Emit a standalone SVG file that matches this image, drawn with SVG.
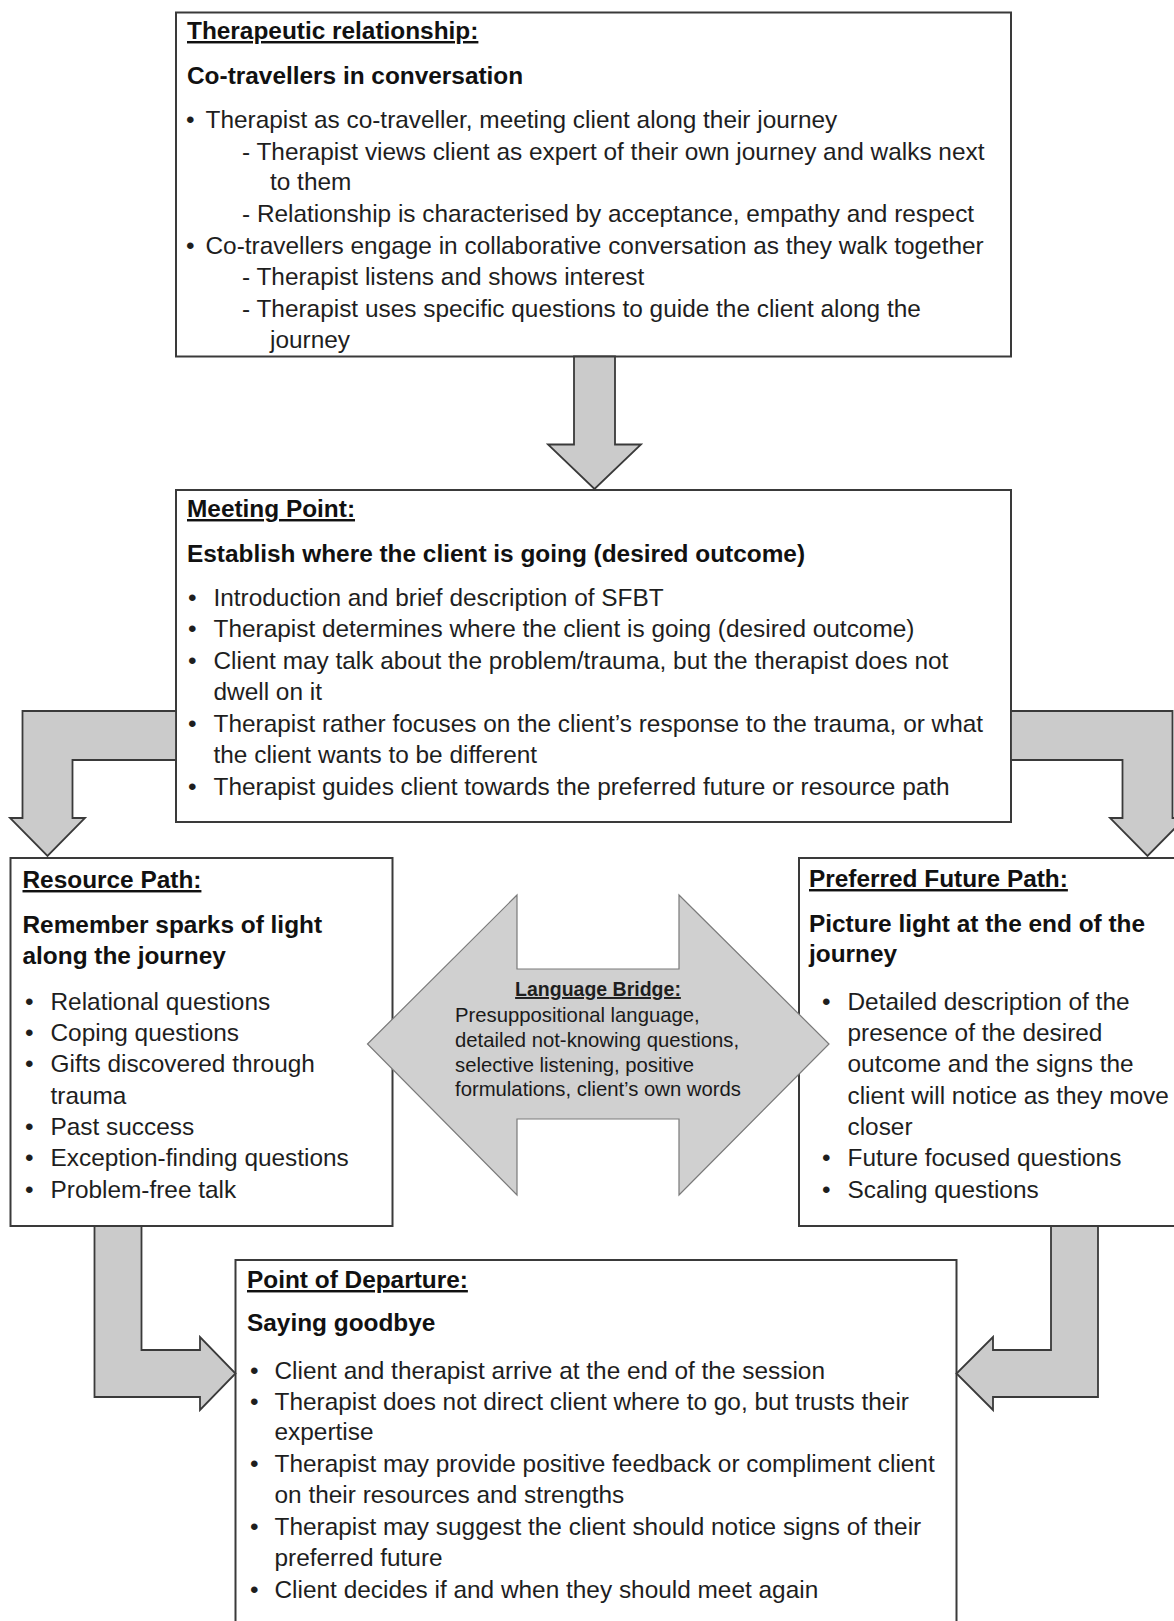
<svg xmlns="http://www.w3.org/2000/svg" width="1174" height="1621" viewBox="0 0 1174 1621">
<style>
.box{fill:#fff;stroke:#3a3a3a;stroke-width:2}
.arr{fill:#cbcbcb;stroke:#3a3a3a;stroke-width:1.8;stroke-linejoin:miter}
.bridge{fill:#d0d0d0;stroke:#7a7a7a;stroke-width:1.2}
text{font-family:"Liberation Sans",Arial,sans-serif;fill:#1e1e1e;font-size:24.4px}
.h{font-weight:bold;text-decoration:underline;fill:#111}
.s{font-weight:bold;fill:#111}
.bt{font-size:20.3px;fill:#1a1a1a}
.bh{font-size:19.5px;font-weight:bold;text-decoration:underline;text-anchor:middle}
</style>
<rect width="1174" height="1621" fill="#fff"/>
<g id="therapeutic-relationship">
<rect class="box" x="176" y="12.5" width="835" height="344"/>
<text class="h" x="187" y="39">Therapeutic relationship:</text>
<text class="s" x="187" y="84">Co-travellers in conversation</text>
<text x="186" y="128">•</text><text x="205.5" y="128">Therapist as co-traveller, meeting client along their journey</text>
<text x="242" y="160">- Therapist views client as expert of their own journey and walks next</text>
<text x="270" y="190">to them</text>
<text x="242" y="222">- Relationship is characterised by acceptance, empathy and respect</text>
<text x="186" y="254">•</text><text x="205.5" y="254">Co-travellers engage in collaborative conversation as they walk together</text>
<text x="242" y="285">- Therapist listens and shows interest</text>
<text x="242" y="317">- Therapist uses specific questions to guide the client along the</text>
<text x="270" y="348">journey</text>
</g>
<g id="meeting-point">
<rect class="box" x="176" y="490" width="835" height="332"/>
<text class="h" x="187" y="517">Meeting Point:</text>
<text class="s" x="187" y="562">Establish where the client is going (desired outcome)</text>
<text x="188" y="606">•</text><text x="213.5" y="606">Introduction and brief description of SFBT</text>
<text x="188" y="637">•</text><text x="213.5" y="637">Therapist determines where the client is going (desired outcome)</text>
<text x="188" y="669">•</text><text x="213.5" y="669">Client may talk about the problem/trauma, but the therapist does not</text>
<text x="213.5" y="700">dwell on it</text>
<text x="188" y="732">•</text><text x="213.5" y="732">Therapist rather focuses on the client’s response to the trauma, or what</text>
<text x="213.5" y="763">the client wants to be different</text>
<text x="188" y="795">•</text><text x="213.5" y="795">Therapist guides client towards the preferred future or resource path</text>
</g>
<g id="resource-path">
<rect class="box" x="10.5" y="858" width="382" height="368"/>
<text class="h" x="22.5" y="888">Resource Path:</text>
<text class="s" x="22.5" y="933">Remember sparks of light</text>
<text class="s" x="22.5" y="964">along the journey</text>
<text x="25" y="1010">•</text><text x="50.5" y="1010">Relational questions</text>
<text x="25" y="1041">•</text><text x="50.5" y="1041">Coping questions</text>
<text x="25" y="1072">•</text><text x="50.5" y="1072">Gifts discovered through</text>
<text x="50.5" y="1104">trauma</text>
<text x="25" y="1135">•</text><text x="50.5" y="1135">Past success</text>
<text x="25" y="1166">•</text><text x="50.5" y="1166">Exception-finding questions</text>
<text x="25" y="1198">•</text><text x="50.5" y="1198">Problem-free talk</text>
</g>
<g id="preferred-future-path">
<rect class="box" x="799" y="858" width="390" height="368"/>
<text class="h" x="809" y="887">Preferred Future Path:</text>
<text class="s" x="809" y="932">Picture light at the end of the</text>
<text class="s" x="809" y="962">journey</text>
<text x="822" y="1010">•</text><text x="847.5" y="1010">Detailed description of the</text>
<text x="847.5" y="1041">presence of the desired</text>
<text x="847.5" y="1072">outcome and the signs the</text>
<text x="847.5" y="1104">client will notice as they move</text>
<text x="847.5" y="1135">closer</text>
<text x="822" y="1166">•</text><text x="847.5" y="1166">Future focused questions</text>
<text x="822" y="1198">•</text><text x="847.5" y="1198">Scaling questions</text>
</g>
<g id="point-of-departure">
<rect class="box" x="235.5" y="1260" width="721" height="380"/>
<text class="h" x="247" y="1288">Point of Departure:</text>
<text class="s" x="247" y="1331">Saying goodbye</text>
<text x="250" y="1379">•</text><text x="274.5" y="1379">Client and therapist arrive at the end of the session</text>
<text x="250" y="1410">•</text><text x="274.5" y="1410">Therapist does not direct client where to go, but trusts their</text>
<text x="274.5" y="1440">expertise</text>
<text x="250" y="1472">•</text><text x="274.5" y="1472">Therapist may provide positive feedback or compliment client</text>
<text x="274.5" y="1503">on their resources and strengths</text>
<text x="250" y="1535">•</text><text x="274.5" y="1535">Therapist may suggest the client should notice signs of their</text>
<text x="274.5" y="1566">preferred future</text>
<text x="250" y="1598">•</text><text x="274.5" y="1598">Client decides if and when they should meet again</text>
</g>
<g id="connectors">
<polygon class="arr" points="574,356.5 615,356.5 615,444.5 641,444.5 594.5,489 548,444.5 574,444.5"/>
<polygon class="arr" points="176,711 22.5,711 22.5,818 10,818 47.5,856 85,818 72.5,818 72.5,760 176,760"/>
<polygon class="arr" points="1011,711 1172.5,711 1172.5,818 1185,818 1147.5,856 1110,818 1122.5,818 1122.5,760 1011,760"/>
<polygon class="arr" points="94.5,1226 141.5,1226 141.5,1350 200,1350 200,1337 235.5,1373.5 200,1410 200,1397 94.5,1397"/>
<polygon class="arr" points="1098,1226 1098,1397 993,1397 993,1410 956.5,1373.5 993,1337 993,1350 1051,1350 1051,1226"/>
</g>
<g id="language-bridge">
<polygon class="bridge" points="367.5,1044 517,895 517,969 679,969 679,895 829,1044 679,1195 679,1119 517,1119 517,1195"/>
<text class="bh" x="598" y="996">Language Bridge:</text>
<text class="bt" x="455" y="1022">Presuppositional language,</text>
<text class="bt" x="455" y="1047">detailed not-knowing questions,</text>
<text class="bt" x="455" y="1072">selective listening, positive</text>
<text class="bt" x="455" y="1096">formulations, client’s own words</text>
</g>
</svg>
